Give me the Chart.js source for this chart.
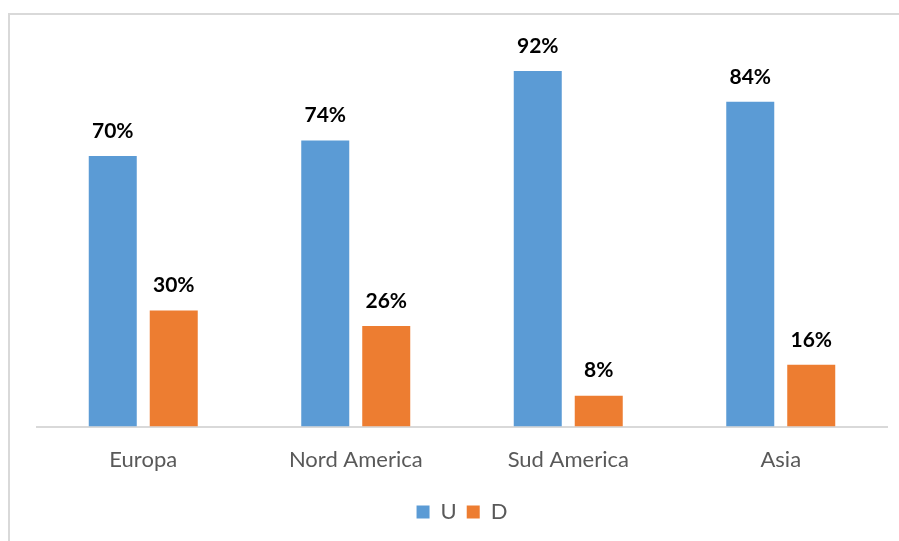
<!DOCTYPE html>
<html>
<head>
<meta charset="utf-8">
<script src="https://cdn.jsdelivr.net/npm/chart.js@4/dist/chart.umd.min.js"></script>
<style>
  html, body { margin: 0; padding: 0; background: #fff; overflow: hidden; }
  #wrap { position: relative; width: 899px; height: 541px; }
  #frame {
    position: absolute; left: 8px; top: 13px; width: 900px; height: 540px;
    border-left: 2px solid #d9d9d9; border-top: 2px solid #d9d9d9;
  }
  #chart { position: absolute; left: 0; top: 0; }
</style>
</head>
<body>
<div id="wrap">
  <div id="frame"></div>
  <canvas id="chart" width="899" height="541"></canvas>
</div>
<script>
const regions = ['Europa', 'Nord America', 'Sud America', 'Asia'];
const valuesU = [70, 74, 92, 84];
const valuesD = [30, 26, 8, 16];

const labelFont = "Lato, 'Open Sans', sans-serif";

// percent labels above each bar
const barValueLabels = {
  id: 'barValueLabels',
  afterDatasetsDraw(chart) {
    const ctx = chart.ctx;
    ctx.save();
    ctx.font = 'bold 21px ' + labelFont;
    ctx.fillStyle = '#000';
    ctx.textAlign = 'center';
    ctx.textBaseline = 'middle';
    chart.data.datasets.forEach((ds, i) => {
      chart.getDatasetMeta(i).data.forEach((bar, j) => {
        ctx.fillText(ds.data[j] + '%', bar.x, bar.y - 25);
      });
    });
    ctx.restore();
  }
};

new Chart(document.getElementById('chart'), {
  type: 'bar',
  data: {
    labels: regions,
    datasets: [{
      label: 'U',
      data: valuesU,
      backgroundColor: '#5b9bd5',
      categoryPercentage: 0.574,
      barPercentage: 0.787
    }, {
      label: 'D',
      data: valuesD,
      backgroundColor: '#ed7d31',
      categoryPercentage: 0.574,
      barPercentage: 0.787
    }]
  },
  options: {
    responsive: false,
    animation: false,
    layout: { padding: { left: 37, right: 12, top: 40, bottom: 8 } },
    plugins: {
      legend: {
        position: 'bottom',
        labels: {
          color: '#595959',
          boxWidth: 13,
          boxHeight: 13,
          padding: 10,
          font: { family: labelFont, size: 22 }
        }
      },
      tooltip: { enabled: false }
    },
    scales: {
      x: {
        grid: { display: false },
        border: { display: true, color: '#d9d9d9', width: 2 },
        ticks: {
          color: '#595959',
          padding: 12,
          font: { family: labelFont, size: 22 }
        },
        // extra room between the category labels and the legend
        afterFit(scale) { scale.height += 6; }
      },
      y: {
        display: false,
        min: 0,
        max: 100
      }
    }
  },
  plugins: [barValueLabels]
});
</script>
</body>
</html>
